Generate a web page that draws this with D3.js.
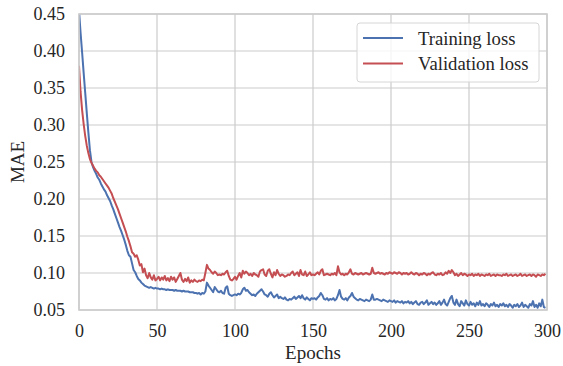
<!DOCTYPE html>
<html>
<head>
<meta charset="utf-8">
<script src="https://cdn.jsdelivr.net/npm/d3@7"></script>
<style>
  body { margin: 0; background: #fff; }
  svg { display: block; font-family: "Liberation Serif", "Times New Roman", serif; }
</style>
</head>
<body>
<svg id="chart" width="563" height="366"></svg>
<script>
const trainingLoss = [
  0.455, 0.425, 0.398, 0.370, 0.343, 0.316, 0.290, 0.266, 0.250, 0.243,
  0.238, 0.234, 0.229, 0.226, 0.221, 0.217, 0.213, 0.210, 0.205, 0.201,
  0.197, 0.191, 0.186, 0.180, 0.174, 0.168, 0.162, 0.157, 0.151, 0.145,
  0.138, 0.130, 0.124, 0.122, 0.113, 0.104, 0.101, 0.096, 0.092, 0.090,
  0.087, 0.085, 0.083, 0.082, 0.081, 0.080, 0.081, 0.080, 0.079, 0.080,
  0.079, 0.079, 0.078, 0.079, 0.078, 0.078, 0.077, 0.078, 0.077, 0.077,
  0.077, 0.076, 0.077, 0.076, 0.076, 0.076, 0.075, 0.076, 0.075, 0.075,
  0.075, 0.074, 0.074, 0.074, 0.073, 0.073, 0.072, 0.073, 0.071, 0.073,
  0.072, 0.075, 0.087, 0.083, 0.080, 0.077, 0.074, 0.081, 0.078, 0.075,
  0.074, 0.076, 0.073, 0.072, 0.080, 0.082, 0.072, 0.070, 0.069, 0.070,
  0.071, 0.070, 0.072, 0.071, 0.073, 0.078, 0.080, 0.076, 0.077, 0.074,
  0.072, 0.070, 0.071, 0.069, 0.072, 0.074, 0.076, 0.078, 0.075, 0.071,
  0.070, 0.068, 0.072, 0.074, 0.070, 0.067, 0.069, 0.071, 0.066, 0.068,
  0.066, 0.065, 0.067, 0.064, 0.063, 0.065, 0.064, 0.066, 0.068, 0.065,
  0.067, 0.069, 0.066, 0.070, 0.066, 0.064, 0.067, 0.065, 0.063, 0.066,
  0.065, 0.066, 0.064, 0.067, 0.069, 0.073, 0.070, 0.065, 0.064, 0.066,
  0.063, 0.065, 0.064, 0.066, 0.063, 0.065, 0.070, 0.077, 0.068, 0.065,
  0.064, 0.066, 0.063, 0.067, 0.069, 0.073, 0.068, 0.066, 0.064, 0.063,
  0.065, 0.064, 0.063, 0.062, 0.064, 0.063, 0.062, 0.064, 0.071, 0.064,
  0.064, 0.065, 0.064, 0.063, 0.062, 0.064, 0.063, 0.062, 0.061, 0.063,
  0.062, 0.061, 0.063, 0.060, 0.062, 0.061, 0.060, 0.062, 0.059, 0.061,
  0.060, 0.062, 0.059, 0.061, 0.058, 0.060, 0.062, 0.058, 0.057, 0.060,
  0.061, 0.058, 0.060, 0.063, 0.057, 0.059, 0.061, 0.058, 0.060, 0.057,
  0.059, 0.062, 0.057, 0.060, 0.064, 0.058, 0.056, 0.061, 0.066, 0.069,
  0.060, 0.057, 0.064, 0.058, 0.055, 0.062, 0.059, 0.056, 0.063, 0.058,
  0.056, 0.061, 0.057, 0.059, 0.055, 0.060, 0.057, 0.062, 0.056, 0.058,
  0.055, 0.059, 0.057, 0.054, 0.058, 0.056, 0.060, 0.055, 0.057, 0.054,
  0.058, 0.056, 0.059, 0.055, 0.057, 0.054, 0.058, 0.056, 0.053, 0.057,
  0.055, 0.058, 0.054, 0.056, 0.060, 0.054, 0.057, 0.055, 0.053, 0.058,
  0.056, 0.062, 0.054, 0.057, 0.053, 0.059, 0.055, 0.064, 0.054, 0.053
];

const validationLoss = [
  0.380, 0.345, 0.320, 0.301, 0.285, 0.272, 0.262, 0.254, 0.249, 0.245,
  0.241, 0.238, 0.236, 0.232, 0.230, 0.227, 0.224, 0.221, 0.218, 0.215,
  0.211, 0.207, 0.201, 0.196, 0.191, 0.186, 0.180, 0.174, 0.168, 0.162,
  0.156, 0.149, 0.143, 0.136, 0.128, 0.126, 0.122, 0.124, 0.118, 0.110,
  0.112, 0.101, 0.106, 0.097, 0.093, 0.100, 0.094, 0.091, 0.097, 0.090,
  0.092, 0.095, 0.090, 0.094, 0.091, 0.096, 0.090, 0.093, 0.089, 0.095,
  0.091, 0.094, 0.088, 0.092, 0.096, 0.100, 0.091, 0.088, 0.092, 0.089,
  0.094, 0.087, 0.090, 0.088, 0.091, 0.089, 0.088, 0.090, 0.089, 0.091,
  0.090, 0.100, 0.111, 0.106, 0.104, 0.101, 0.099, 0.102, 0.100, 0.097,
  0.098, 0.097, 0.099, 0.098, 0.101, 0.103, 0.096, 0.091, 0.090, 0.092,
  0.095, 0.091, 0.096, 0.100, 0.094, 0.103, 0.099, 0.102, 0.100, 0.097,
  0.099, 0.096, 0.100, 0.098, 0.097, 0.095, 0.102, 0.104, 0.105, 0.098,
  0.096, 0.103, 0.105, 0.099, 0.094, 0.101, 0.097, 0.104, 0.099, 0.096,
  0.098, 0.097, 0.095, 0.096, 0.098, 0.097, 0.100, 0.102, 0.097, 0.099,
  0.101, 0.096, 0.104, 0.098, 0.097, 0.102, 0.096, 0.098, 0.101, 0.097,
  0.098, 0.097, 0.099, 0.101, 0.098, 0.103, 0.105, 0.097, 0.098, 0.099,
  0.098, 0.097, 0.099, 0.098, 0.100, 0.097, 0.109, 0.101, 0.098, 0.099,
  0.097, 0.099, 0.098, 0.101, 0.105, 0.099, 0.098, 0.100, 0.099, 0.098,
  0.099, 0.100, 0.098, 0.099, 0.100, 0.099, 0.098, 0.099, 0.107, 0.100,
  0.099, 0.100, 0.101, 0.099, 0.100, 0.099, 0.098, 0.100, 0.099, 0.101,
  0.100, 0.099, 0.101, 0.100, 0.099, 0.101, 0.100, 0.098, 0.100, 0.099,
  0.100, 0.098, 0.099, 0.101, 0.099, 0.098, 0.100, 0.099, 0.097, 0.099,
  0.098, 0.100, 0.099, 0.097, 0.099, 0.098, 0.100, 0.101, 0.098, 0.097,
  0.099, 0.098, 0.100, 0.097, 0.098, 0.101, 0.099, 0.103, 0.100, 0.104,
  0.101, 0.097, 0.099, 0.096, 0.098, 0.100, 0.097, 0.099, 0.098, 0.096,
  0.098, 0.097, 0.099, 0.096, 0.098, 0.097, 0.099, 0.096, 0.098, 0.097,
  0.096, 0.098, 0.097, 0.099, 0.096, 0.097, 0.098, 0.096, 0.098, 0.097,
  0.097, 0.096, 0.098, 0.097, 0.099, 0.096, 0.097, 0.098, 0.096, 0.097,
  0.098, 0.096, 0.097, 0.099, 0.096, 0.097, 0.098, 0.096, 0.097, 0.098,
  0.096, 0.098, 0.097, 0.095, 0.098, 0.097, 0.096, 0.098, 0.097, 0.099
];

const xTicks = [0, 50, 100, 150, 200, 250, 300];
const yTicks = [0.05, 0.10, 0.15, 0.20, 0.25, 0.30, 0.35, 0.40, 0.45];
const seriesNames = ['Training loss', 'Validation loss'];
const seriesColors = ['#4c72b0', '#c44e52'];

const svg = d3.select('#chart');
const margin = { top: 14, right: 16, bottom: 56, left: 79 };
const width = +svg.attr('width') - margin.left - margin.right;
const height = +svg.attr('height') - margin.top - margin.bottom;
const tickSize = 18;
const labelSize = 19;
const legendSize = 18.7;
const gridColor = '#cccccc';
const textColor = '#262626';

const x = d3.scaleLinear().domain([0, 300]).range([0, width]);
const y = d3.scaleLinear().domain([0.05, 0.45]).range([height, 0]);

const g = svg.append('g').attr('transform', `translate(${margin.left},${margin.top})`);

// grid lines
g.append('g')
    .selectAll('line')
    .data(xTicks)
    .enter()
    .append('line')
    .attr('x1', d => x(d)).attr('x2', d => x(d))
    .attr('y1', 0).attr('y2', height)
    .attr('stroke', gridColor).attr('stroke-width', 1.2);

g.append('g')
    .selectAll('line')
    .data(yTicks)
    .enter()
    .append('line')
    .attr('x1', 0).attr('x2', width)
    .attr('y1', d => y(d)).attr('y2', d => y(d))
    .attr('stroke', gridColor).attr('stroke-width', 1.2);

// lines, clipped to the plot area
g.append('clipPath').attr('id', 'clip')
    .append('rect').attr('width', width).attr('height', height);

const line = d3.line()
    .x((d, i) => x(i))
    .y(d => y(d));

[trainingLoss, validationLoss].forEach((values, k) => {
    g.append('path')
        .datum(values)
        .attr('clip-path', 'url(#clip)')
        .attr('fill', 'none')
        .attr('stroke', seriesColors[k])
        .attr('stroke-width', 2)
        .attr('stroke-linejoin', 'round')
        .attr('d', line);
});

// spines
g.append('rect')
    .attr('width', width).attr('height', height)
    .attr('fill', 'none')
    .attr('stroke', gridColor).attr('stroke-width', 1.6);

// axes (no tick marks, only labels)
const xAxis = g.append('g')
    .attr('transform', `translate(0,${height})`)
    .call(d3.axisBottom(x).tickValues(xTicks).tickSize(0).tickPadding(14).tickFormat(d3.format('d')));
const yAxis = g.append('g')
    .call(d3.axisLeft(y).tickValues(yTicks).tickSize(0).tickPadding(14).tickFormat(d3.format('.2f')));

[xAxis, yAxis].forEach(ax => {
    ax.select('.domain').remove();
    ax.selectAll('text')
        .attr('font-family', '"Liberation Serif", serif')
        .attr('font-size', tickSize)
        .attr('fill', textColor);
});

// axis titles
svg.append('text')
    .attr('x', margin.left + width / 2)
    .attr('y', 359)
    .attr('text-anchor', 'middle')
    .attr('font-size', labelSize)
    .attr('fill', textColor)
    .text('Epochs');

svg.append('text')
    .attr('transform', `translate(24,${margin.top + height / 2}) rotate(-90)`)
    .attr('text-anchor', 'middle')
    .attr('font-size', labelSize)
    .attr('fill', textColor)
    .text('MAE');

// legend
const legend = svg.append('g').attr('transform', 'translate(357,23)');
legend.append('rect')
    .attr('width', 182).attr('height', 59)
    .attr('rx', 3).attr('ry', 3)
    .attr('fill', 'rgba(255,255,255,0.8)')
    .attr('stroke', '#d6d6d6').attr('stroke-width', 1);

seriesNames.forEach((name, k) => {
    const row = legend.append('g').attr('transform', `translate(0,${15 + k * 25.5})`);
    row.append('line')
        .attr('x1', 6).attr('x2', 46)
        .attr('stroke', seriesColors[k]).attr('stroke-width', 2);
    row.append('text')
        .attr('x', 61).attr('y', 6.5)
        .attr('font-size', legendSize)
        .attr('fill', textColor)
        .text(name);
});
</script>
</body>
</html>
